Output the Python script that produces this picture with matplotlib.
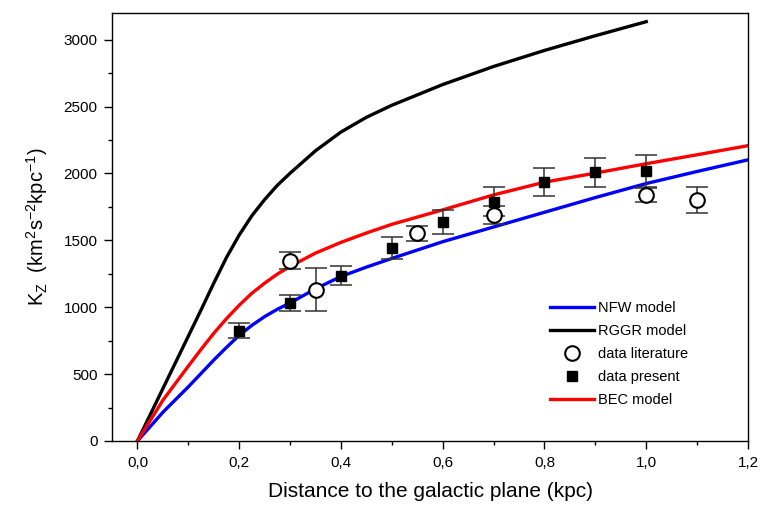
import matplotlib
matplotlib.use("Agg")
import matplotlib.pyplot as plt
from matplotlib.ticker import MultipleLocator, FuncFormatter

plt.rcParams['font.family'] = ['Liberation Sans', 'DejaVu Sans']
plt.rcParams['mathtext.fontset'] = 'custom'
plt.rcParams['mathtext.rm'] = 'Liberation Sans'
plt.rcParams['mathtext.it'] = 'Liberation Sans'

# Model curves
nfw_x = [0, 0.05, 0.1, 0.125, 0.15, 0.175, 0.2, 0.225, 0.25, 0.275, 0.3, 0.35, 0.4,
         0.45, 0.5, 0.6, 0.7, 0.8, 0.9, 1.0, 1.1, 1.2]
nfw_y = [0, 215, 405, 505, 605, 700, 790, 865, 930, 985, 1032, 1138, 1230,
         1300, 1365, 1490, 1600, 1710, 1820, 1925, 2015, 2102]

bec_x = [0, 0.05, 0.1, 0.125, 0.15, 0.175, 0.2, 0.225, 0.25, 0.275, 0.3, 0.35, 0.4,
         0.45, 0.5, 0.6, 0.7, 0.8, 0.9, 1.0, 1.1, 1.2]
bec_y = [0, 305, 560, 685, 805, 915, 1015, 1105, 1180, 1248, 1305, 1405, 1485,
         1555, 1620, 1728, 1840, 1935, 2003, 2073, 2140, 2208]

rggr_x = [0, 0.05, 0.1, 0.125, 0.15, 0.175, 0.2, 0.225, 0.25, 0.275, 0.3, 0.35, 0.4,
          0.45, 0.5, 0.6, 0.7, 0.8, 0.9, 1.0]
rggr_y = [0, 392, 784, 980, 1180, 1372, 1540, 1685, 1805, 1912, 2002, 2170, 2310,
          2420, 2510, 2665, 2800, 2920, 3030, 3135]

# Data present (squares)
pres_x = [0.2, 0.3, 0.4, 0.5, 0.6, 0.7, 0.8, 0.9, 1.0]
pres_y = [823, 1032, 1234, 1443, 1638, 1790, 1939, 2009, 2021]
pres_err = [56, 60, 71, 82, 88, 110, 105, 110, 120]

# Data literature (circles)
lit_x = [0.3, 0.35, 0.55, 0.7, 1.0, 1.1]
lit_y = [1348, 1132, 1553, 1690, 1840, 1802]
lit_err = [65, 160, 56, 70, 55, 100]

xticks = [0.0, 0.2, 0.4, 0.6, 0.8, 1.0, 1.2]
yticks = [0, 500, 1000, 1500, 2000, 2500, 3000]

fig = plt.figure(figsize=(7.61, 5.11), dpi=100)
ax = fig.add_axes([0.1472, 0.137, 0.8357, 0.8376])

l_nfw, = ax.plot(nfw_x, nfw_y, color='#0000ff', lw=2.4, label='NFW model', zorder=2)
l_rggr, = ax.plot(rggr_x, rggr_y, color='black', lw=2.4, label='RGGR model', zorder=2)
l_bec, = ax.plot(bec_x, bec_y, color='#ff0000', lw=2.4, label='BEC model', zorder=2)

ax.errorbar(pres_x, pres_y, yerr=pres_err, fmt='none', ecolor='#333333',
            elinewidth=1.1, capsize=8, capthick=1.1, zorder=3)
h_pres, = ax.plot(pres_x, pres_y, 's', color='black', ms=7, ls='none',
                  label='data present', zorder=4)
ax.errorbar(lit_x, lit_y, yerr=lit_err, fmt='none', ecolor='#333333',
            elinewidth=1.1, capsize=8, capthick=1.1, zorder=3)
h_lit, = ax.plot(lit_x, lit_y, 'o', mfc='white', mec='black', mew=1.5, ms=10.5,
                 ls='none', label='data literature', zorder=4)

ax.set_xlim(-0.05, 1.2)
ax.set_ylim(0, 3200)
ax.set_xticks(xticks)
ax.set_yticks(yticks)
ax.xaxis.set_minor_locator(MultipleLocator(0.1))
ax.yaxis.set_minor_locator(MultipleLocator(250))
ax.xaxis.set_major_formatter(FuncFormatter(lambda v, p: f"{v:.1f}".replace('.', ',')))
ax.tick_params(axis='both', which='both', direction='out', top=False, right=False,
               labelsize=11)
ax.tick_params(which='major', length=5.5, width=1, pad=5)
ax.tick_params(which='minor', length=3, width=1)
for s in ax.spines.values():
    s.set_linewidth(1)

ax.set_xlabel('Distance to the galactic plane (kpc)', fontsize=15, labelpad=9)
ax.set_ylabel(r'K$_Z$  (km$^2$s$^{-2}$kpc$^{-1}$)', fontsize=14.5, labelpad=10)

leg = ax.legend(handles=[l_nfw, l_rggr, h_lit, h_pres, l_bec],
                loc='upper left', bbox_to_anchor=(0.668, 0.358), frameon=False,
                fontsize=10.5, handlelength=3.0, handletextpad=0.3, labelspacing=0.62)

fig.savefig('out.png', dpi=100)
